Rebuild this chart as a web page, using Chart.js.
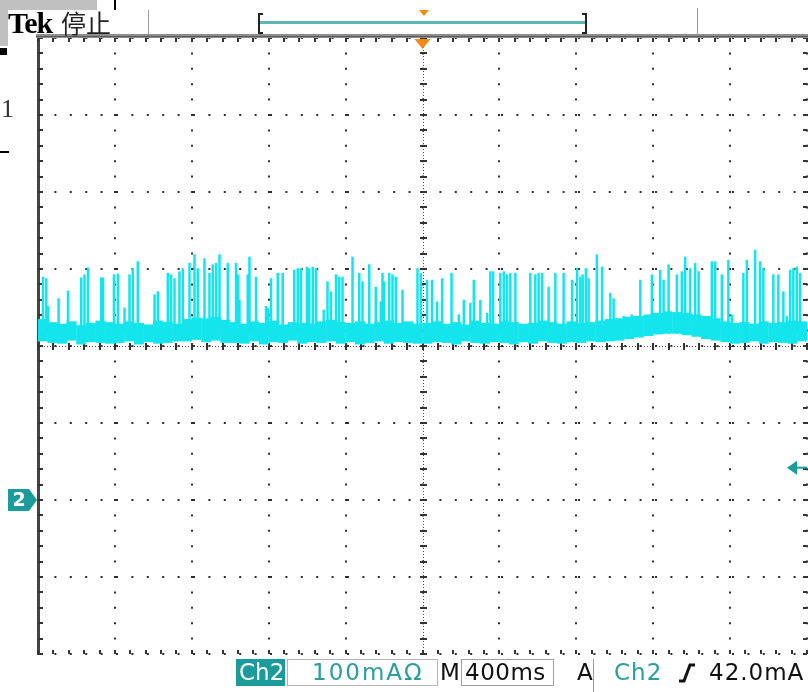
<!DOCTYPE html>
<html>
<head>
<meta charset="utf-8">
<script src="https://cdn.jsdelivr.net/npm/chart.js@4.4.1/dist/chart.umd.min.js"></script>
<style>
  body { margin: 0; background: #fff; }
  #wrap { position: relative; width: 808px; height: 692px; overflow: hidden; background: #fff; }
  #scope { position: absolute; left: 0; top: 0; }
  .t { position: absolute; white-space: nowrap; line-height: 1; font-family: "DejaVu Sans", sans-serif; font-size: 23px; }
  .box { position: absolute; box-sizing: border-box; }
</style>
</head>
<body>
<div id="wrap">
  <canvas id="scope" width="808" height="692"></canvas>

  <div class="t" style="left:8px;top:8px;font-family:'Liberation Serif',serif;font-weight:bold;font-size:30px;letter-spacing:-1px;color:#000">Tek</div>
  <div class="t" style="left:61px;top:10px;font-family:'Noto Sans CJK TC',sans-serif;font-size:25px;color:#222">停止</div>
  <div class="t" style="left:1px;top:96px;font-family:'Liberation Serif',serif;font-size:26px;color:#333">1</div>

  <div class="box" style="left:236px;top:659px;width:49px;height:27px;background:#1b9b9b"></div>
  <div class="t" style="left:239px;top:661px;color:#fff">Ch2</div>
  <div class="box" style="left:287px;top:659px;width:151px;height:27px;border:1px solid #b5b5b5"></div>
  <div class="t" style="left:312px;top:661px;color:#2a9d9d;letter-spacing:2px">100mAΩ</div>
  <div class="t" style="left:440px;top:661px;color:#111">M</div>
  <div class="box" style="left:461px;top:659px;width:93px;height:27px;border:1px solid #a0a0a0"></div>
  <div class="t" style="left:465px;top:661px;color:#111;letter-spacing:0.5px">400ms</div>
  <div class="t" style="left:577px;top:661px;color:#111">A</div>
  <div class="box" style="left:593px;top:659px;width:1px;height:33px;background:#999"></div>
  <div class="t" style="left:614px;top:661px;color:#2a9d9d;letter-spacing:1px">Ch2</div>
  <svg class="box" style="left:677px;top:662px" width="20" height="22" viewBox="0 0 20 22">
    <polyline points="2,19 7,19 13,3 18,3" fill="none" stroke="#111" stroke-width="3"/>
  </svg>
  <div class="t" style="left:709px;top:661px;color:#111;letter-spacing:1px">42.0mA</div>
</div>

<script>
// scope settings: 400ms/div horizontally, 100mA/div vertically, ch2 ground 2 div below centre
const X_MIN = -2000, X_MAX = 2000, X_STEP = 400;   // ms
const Y_MIN = -200, Y_MAX = 600, Y_STEP = 100;     // mA
const Y_CENTER = 200;
const TRIGGER_LEVEL = 42;                          // mA

// noise band envelope (mA), one sample every 50 ms starting at -1975 ms
const ENV_T0 = -1975, ENV_DT = 50;
const envHi = [235, 231, 229, 232, 227, 230, 233, 231,
               229, 232, 230, 228, 233, 231, 229,
               235, 237, 236, 238, 234,
               231, 229, 232, 230, 233, 228, 231, 230, 229, 232, 234, 231, 230, 232, 229, 231, 233, 230, 232, 229,
               230, 232, 229, 231, 228, 233, 230, 229, 232, 231, 229, 230, 233, 231, 229, 232, 230, 231, 233,
               235, 236, 238, 239, 241, 243, 245, 244, 243, 241, 239, 236,
               232, 230, 231, 229, 232, 230, 231, 233, 232];
const envLo = [206, 204, 203, 207, 202, 205, 204, 203,
               204, 206, 202, 205, 203, 204, 206,
               206, 208, 205, 207, 204,
               204, 203, 206, 202, 205, 204, 207, 203, 205, 204, 206, 203, 205, 202, 204, 206, 203, 205, 204, 203,
               203, 205, 204, 202, 206, 204, 203, 205, 204, 202, 205, 203, 206, 204, 203, 205, 204, 206, 205,
               206, 207, 209, 211, 213, 215, 216, 216, 214, 212, 209, 207,
               205, 203, 204, 206, 203, 205, 204, 203, 206];

// current spikes: time (ms) and peak (mA)
const SPIKE_BASE = 216;
const spikeTimes = [-1974, -1957, -1948, -1893, -1844, -1775, -1758, -1740, -1671, -1662,
                    -1605, -1584, -1550, -1524, -1507, -1481, -1394, -1377, -1325, -1308,
                    -1290, -1264, -1247, -1212, -1186, -1169, -1134, -1108, -1091, -1074,
                    -1056, -1013, -970, -961, -952, -909, -900, -866, -814, -805,
                    -788, -753, -727, -667, -649, -632, -601, -589, -571, -554,
                    -514, -494, -476, -450, -433, -416, -364, -329, -312, -277,
                    -243, -217, -208, -199, -173, -156, -139, -104, -26, -9,
                    24, 50, 76, 102, 151, 189, 215, 249, 267, 301,
                    336, 353, 367, 405, 423, 440, 457, 483, 561, 587,
                    604, 622, 656, 691, 734, 778, 804, 821, 833, 850,
                    864, 907, 934, 977, 994, 1011, 1046, 1089, 1133, 1193,
                    1236, 1254, 1280, 1323, 1349, 1366, 1392, 1418, 1436, 1505,
                    1522, 1557, 1591, 1609, 1669, 1687, 1730, 1756, 1773, 1825,
                    1851, 1877, 1895, 1912, 1929, 1947, 1964];
const spikeTops = [290, 288, 252, 262, 272, 289, 293, 302, 289, 289,
                   293, 294, 250, 293, 301, 310, 267, 271, 295, 293,
                   288, 297, 301, 308, 319, 301, 314, 295, 306, 308,
                   319, 308, 308, 293, 260, 293, 316, 290, 252, 249,
                   288, 295, 295, 299, 301, 301, 303, 301, 303, 301,
                   247, 284, 271, 293, 290, 290, 316, 295, 284, 306,
                   277, 258, 295, 284, 295, 293, 290, 273, 301, 295,
                   286, 286, 258, 288, 295, 241, 260, 256, 286, 260,
                   243, 297, 297, 295, 297, 293, 295, 295, 295, 293,
                   295, 295, 277, 295, 295, 286, 301, 290, 293, 301,
                   288, 319, 303, 269, 262, 236, 239, 241, 286, 293,
                   299, 286, 306, 293, 297, 316, 301, 308, 297, 310,
                   310, 293, 312, 241, 295, 312, 325, 310, 301, 293,
                   293, 271, 239, 299, 301, 303, 295];

const TRACE = '#14e4ec';
const TEAL = '#1b9b9b';

const envData = envHi.map((hi, i) => ({ x: ENV_T0 + i * ENV_DT, y: [envLo[i], hi] }));
const spikeData = spikeTimes.map((t, i) => ({ x: t, y: [SPIKE_BASE, spikeTops[i]] }));

const scopeDecor = {
  id: 'scopeDecor',
  beforeDatasetsDraw(chart) {
    const { ctx, chartArea: a, scales: { x, y } } = chart;
    const cx = Math.round(x.getPixelForValue(0));
    const cy = Math.round(y.getPixelForValue(Y_CENTER));
    ctx.save();
    // dense centre cross
    ctx.strokeStyle = '#444';
    ctx.lineWidth = 1;
    ctx.setLineDash([1, 2]);
    ctx.beginPath();
    ctx.moveTo(cx + 0.5, a.top); ctx.lineTo(cx + 0.5, a.bottom);
    ctx.moveTo(a.left, cy + 0.5); ctx.lineTo(a.right, cy + 0.5);
    ctx.stroke();
    // minor ticks on the centre lines and the edges
    ctx.fillStyle = '#333';
    for (let v = X_MIN; v <= X_MAX; v += X_STEP / 5) {
      const p = Math.round(x.getPixelForValue(v));
      ctx.fillRect(p - 1, cy - 3, 2, 7);
      ctx.fillRect(p - 1, a.top, 2, 4);
      ctx.fillRect(p - 1, a.bottom - 4, 2, 4);
    }
    for (let v = Y_MIN; v <= Y_MAX; v += Y_STEP / 5) {
      const p = Math.round(y.getPixelForValue(v));
      ctx.fillRect(cx - 3, p - 1, 7, 2);
      ctx.fillRect(a.left, p - 1, 5, 2);
      ctx.fillRect(a.right - 4, p - 1, 4, 2);
    }
    ctx.restore();
  },
  afterDatasetsDraw(chart) {
    const { ctx, chartArea: a, scales: { x, y } } = chart;
    ctx.save();
    // ch2 ground marker
    const y0 = y.getPixelForValue(0);
    ctx.fillStyle = TEAL;
    ctx.beginPath();
    ctx.moveTo(8, y0 - 11); ctx.lineTo(29, y0 - 11); ctx.lineTo(37, y0);
    ctx.lineTo(29, y0 + 11); ctx.lineTo(8, y0 + 11); ctx.closePath();
    ctx.fill();
    ctx.fillStyle = '#fff';
    ctx.font = 'bold 19px "DejaVu Sans"';
    ctx.textAlign = 'center';
    ctx.textBaseline = 'middle';
    ctx.fillText('2', 19, y0 + 1);
    // trigger level arrow
    const yt = y.getPixelForValue(TRIGGER_LEVEL);
    ctx.fillStyle = TEAL;
    ctx.beginPath();
    ctx.moveTo(787, yt); ctx.lineTo(797, yt - 7); ctx.lineTo(797, yt + 7); ctx.closePath();
    ctx.fill();
    ctx.fillRect(796, yt - 1, a.right - 796, 2);
    // trigger position
    const xt = x.getPixelForValue(0);
    ctx.fillStyle = '#f28a1a';
    ctx.beginPath();
    ctx.moveTo(xt - 8, a.top + 1); ctx.lineTo(xt + 8, a.top + 1); ctx.lineTo(xt, a.top + 11); ctx.closePath();
    ctx.fill();
    ctx.restore();
  },
  afterDraw(chart) {
    const { ctx, chartArea: a } = chart;
    ctx.save();
    // top frame
    ctx.fillStyle = '#8d8d8d';
    ctx.fillRect(a.left - 2, a.top - 4, a.right - a.left + 4, 4);
    ctx.fillStyle = '#5a5a5a';
    ctx.fillRect(a.left - 2, a.top - 2, a.right - a.left + 4, 1);
    // header leftovers
    ctx.fillStyle = '#c0c0c0';
    ctx.fillRect(0, 0, 97, 10);
    ctx.fillRect(0, 0, 8, 46);
    ctx.fillStyle = '#000';
    ctx.fillRect(0, 48, 7, 7);
    ctx.fillRect(0, 151, 9, 2);
    ctx.fillRect(114, 0, 2, 10);
    ctx.fillStyle = '#9a9a9a';
    ctx.fillRect(148, 10, 1, 24);
    ctx.fillRect(697, 8, 1, 27);
    // record view bar
    ctx.fillStyle = '#5cb6b6';
    ctx.fillRect(259, 21, 327, 3);
    ctx.strokeStyle = '#222';
    ctx.lineWidth = 2;
    ctx.beginPath();
    ctx.moveTo(263, 14); ctx.lineTo(259, 14); ctx.lineTo(259, 33); ctx.lineTo(263, 33);
    ctx.moveTo(582, 14); ctx.lineTo(586, 14); ctx.lineTo(586, 33); ctx.lineTo(582, 33);
    ctx.stroke();
    ctx.fillStyle = '#f28a1a';
    ctx.beginPath();
    ctx.moveTo(419, 10); ctx.lineTo(429, 10); ctx.lineTo(424, 16); ctx.closePath();
    ctx.fill();
    ctx.restore();
  }
};

new Chart(document.getElementById('scope'), {
  type: 'bar',
  data: {
    datasets: [
      { label: 'noise', data: envData, backgroundColor: TRACE, barThickness: 10, stack: 'trace' },
      { label: 'spikes', data: spikeData, backgroundColor: TRACE, barThickness: 2.5, stack: 'trace' }
    ]
  },
  options: {
    responsive: false,
    animation: false,
    events: [],
    layout: { padding: { left: 38, top: 38, right: 1, bottom: 38 } },
    datasets: { bar: { borderWidth: 0, inflateAmount: 0 } },
    plugins: { legend: { display: false }, tooltip: { enabled: false } },
    scales: {
      x: {
        type: 'linear', min: X_MIN, max: X_MAX, offset: false,
        ticks: { display: false, stepSize: X_STEP },
        grid: { offset: false, drawTicks: false, color: '#2e2e2e', lineWidth: 2 },
        border: { display: false, dash: [2, 13.4], dashOffset: 1 }
      },
      y: {
        min: Y_MIN, max: Y_MAX, stacked: false,
        ticks: { display: false, stepSize: Y_STEP },
        grid: { drawTicks: false, color: '#2e2e2e', lineWidth: 2 },
        border: { display: true, color: '#444', width: 3, dash: [2, 13.4], dashOffset: 1 }
      }
    }
  },
  plugins: [scopeDecor]
});
</script>
</body>
</html>
